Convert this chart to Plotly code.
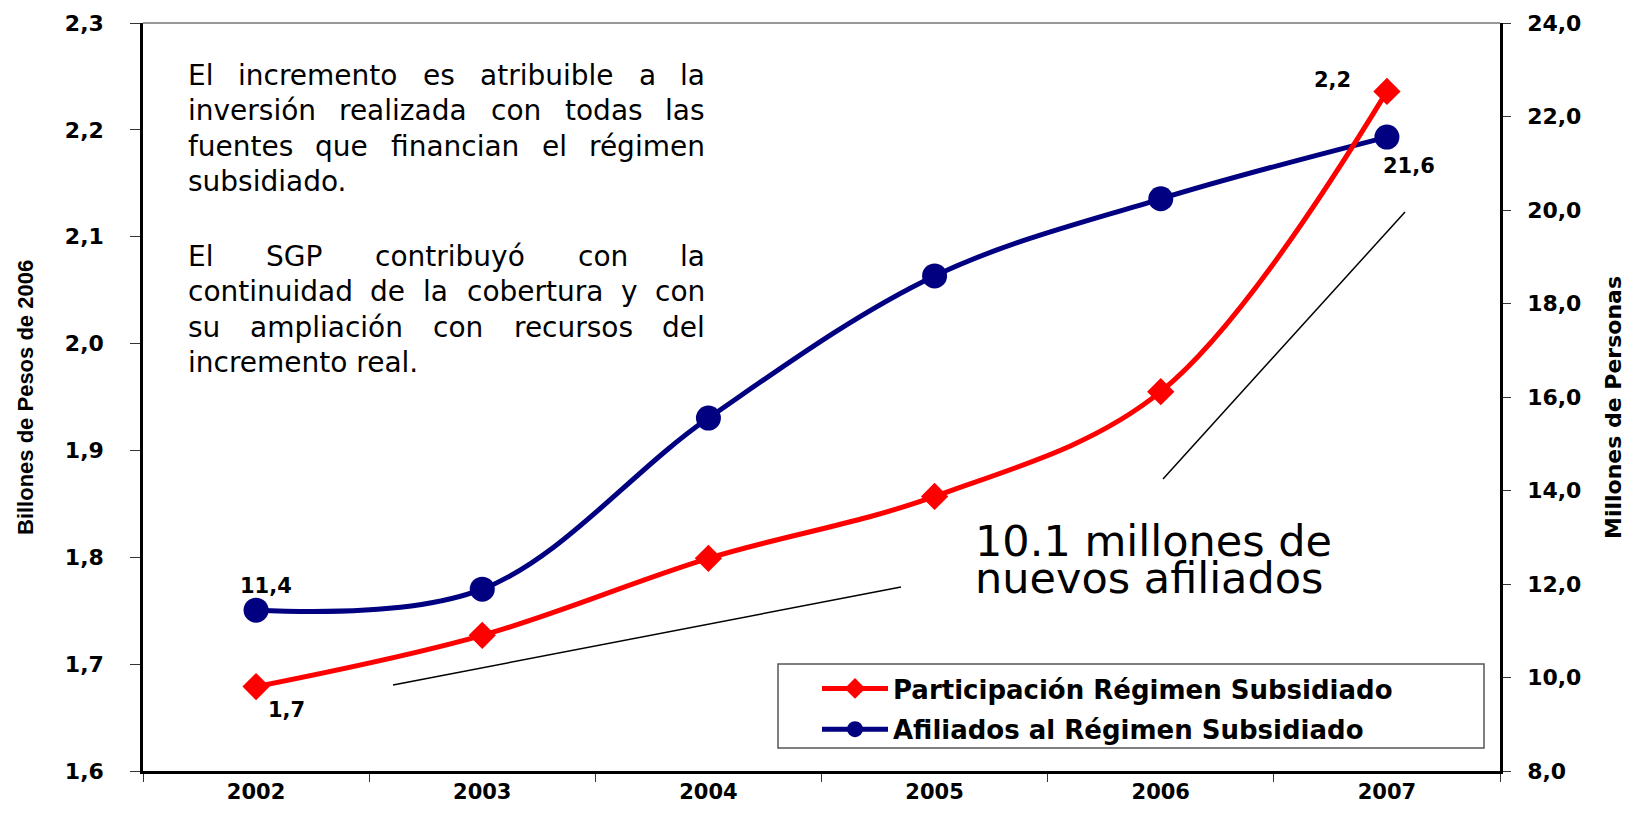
import plotly.graph_objects as go

# ---------------- data ----------------
years = ["2002", "2003", "2004", "2005", "2006", "2007"]
participacion = [1.679, 1.727, 1.799, 1.857, 1.955, 2.236]   # Billones de pesos de 2006
afiliados = [11.44, 11.89, 15.55, 18.59, 20.24, 21.56]       # Millones de personas
name_part = "Participación Régimen Subsidiado"
name_afil = "Afiliados al Régimen Subsidiado"
left_ticks = [1.6, 1.7, 1.8, 1.9, 2.0, 2.1, 2.2, 2.3]
right_ticks = [8, 10, 12, 14, 16, 18, 20, 22, 24]
label_idx = [0, 5]
title_left = "Billones de Pesos de 2006"
title_right = "Millones de Personas"
note_lines = [
    ("El incremento es atribuible a la", True),
    ("inversión realizada con todas las", True),
    ("fuentes que financian el régimen", True),
    ("subsidiado.", False),
    ("El SGP contribuyó con la", True),
    ("continuidad de la cobertura y con", True),
    ("su ampliación con recursos del", True),
    ("incremento real.", False),
]
big_note = ["10.1 millones de", "nuevos afiliados"]

# ---------------- layout helpers ----------------
# page body has an 8px margin: figure is sized so the page is exactly 1634x814
BODY = 8
W, H = 1634 - 2 * BODY, 814 - 2 * BODY
X0, X1, Y0, Y1 = 143, 1500, 23, 771   # plot area in page pixels


def px(x):
    return (x - X0) / (X1 - X0)


def py(y):
    return (Y1 - y) / (Y1 - Y0)


def fmt(v):
    return f"{v:.1f}".replace(".", ",")


RED = "#FF0000"
BLUE = "#000080"
TICKFONT = dict(family="DejaVu Sans", size=22, color="black", weight="bold")
LABELFONT = dict(family="DejaVu Sans", size=21, color="black", weight="bold")

fig = go.Figure()
fig.add_trace(go.Scatter(
    x=years, y=participacion, name=name_part, yaxis="y2", legendgroup="a",
    mode="lines+markers", line=dict(color=RED, width=5, shape="spline"),
    marker=dict(symbol="diamond", size=21, color=RED),
))
fig.add_trace(go.Scatter(
    x=years, y=afiliados, name=name_afil, yaxis="y", legendgroup="b",
    mode="lines+markers", line=dict(color=BLUE, width=5, shape="spline"),
    marker=dict(symbol="circle", size=25, color=BLUE),
))

annotations = []
# data labels (x given as category index)
shifts_part = {0: (30, -23), 5: (-54, 11)}
shifts_afil = {0: (10, 24), 5: (22, -29)}
for i in label_idx:
    dx, dy = shifts_part[i]
    annotations.append(dict(x=i, y=participacion[i], xref="x", yref="y2",
                            text=fmt(participacion[i]), showarrow=False,
                            xshift=dx, yshift=dy, font=LABELFONT))
    dx, dy = shifts_afil[i]
    annotations.append(dict(x=i, y=afiliados[i], xref="x", yref="y",
                            text=fmt(afiliados[i]), showarrow=False,
                            xshift=dx, yshift=dy, font=LABELFONT))

# justified paragraph text (DejaVu Sans metrics, em fractions)
CW = {'a': .613, 'b': .635, 'c': .550, 'd': .635, 'e': .615, 'f': .352, 'g': .635,
      'h': .634, 'i': .278, 'j': .278, 'k': .579, 'l': .278, 'm': .974, 'n': .634,
      'o': .612, 'p': .635, 'q': .635, 'r': .411, 's': .521, 't': .392, 'u': .634,
      'v': .592, 'w': .818, 'x': .592, 'y': .592, 'z': .525, ' ': .318, '.': .318,
      'E': .632, 'S': .635, 'G': .775, 'P': .603, 'ó': .612, 'é': .615}
FS = 28


def tw(s):
    return sum(CW.get(c, .6) for c in s) * FS


XL, XR = 187, 706
baselines = [85, 120.5, 156, 191.5, 266, 301.5, 337, 372.5]
nfont = dict(family="DejaVu Sans", size=FS, color="black")
for (line, just), base in zip(note_lines, baselines):
    yc = py(base - 0.346 * FS)
    if not just:
        annotations.append(dict(x=px(XL), y=yc, xref="paper", yref="paper", text=line,
                                showarrow=False, xanchor="left", yanchor="middle", font=nfont,
                                borderpad=0))
        continue
    words = line.split(" ")
    widths = [tw(w) for w in words]
    gap = (XR - XL - sum(widths)) / (len(words) - 1)
    x = XL
    for k, (w, ww) in enumerate(zip(words, widths)):
        if k == 0:
            xa, anchor = x, "left"
        elif k == len(words) - 1:
            xa, anchor = XR, "right"
        else:
            xa, anchor = x + ww / 2, "center"
        annotations.append(dict(x=px(xa), y=yc, xref="paper", yref="paper", text=w,
                                showarrow=False, xanchor=anchor, yanchor="middle", font=nfont,
                                borderpad=0))
        x += ww + gap

# big note: one text block, tight line spacing (spacing follows the base font size)
BS = 43
annotations.append(dict(
    x=px(974), y=py(559), xref="paper", yref="paper",
    text="<br>".join(f'<span style="font-size:{BS}px">{t}</span>' for t in big_note),
    showarrow=False, xanchor="left", yanchor="middle", align="left", borderpad=0,
    font=dict(family="DejaVu Sans", size=28.5, color="black")))

# axis titles
annotations.append(dict(x=px(25), y=py(398), xref="paper", yref="paper", text=title_left,
                        showarrow=False, textangle=-90, xanchor="center", yanchor="middle",
                        font=dict(family="Liberation Sans", size=22, color="black", weight="bold")))
annotations.append(dict(x=px(1614), y=py(408), xref="paper", yref="paper", text=title_right,
                        showarrow=False, textangle=-90, xanchor="center", yanchor="middle",
                        font=dict(family="DejaVu Sans", size=22, color="black", weight="bold")))

shapes = [
    # frame top line
    dict(type="line", xref="paper", yref="paper", x0=0, x1=1, y0=1, y1=1,
         line=dict(color="#333333", width=1)),
    # trend guide lines
    dict(type="line", xref="paper", yref="paper", x0=px(393), y0=py(685), x1=px(901), y1=py(587),
         line=dict(color="black", width=1.5)),
    dict(type="line", xref="paper", yref="paper", x0=px(1163), y0=py(479), x1=px(1405), y1=py(212),
         line=dict(color="black", width=1.5)),
    # legend box
    dict(type="rect", xref="paper", yref="paper", x0=px(778), y0=py(664), x1=px(1484), y1=py(748),
         line=dict(color="#555555", width=1.5), fillcolor="white", layer="below"),
]

AX = dict(showgrid=False, zeroline=False, showline=True, linecolor="black", linewidth=2.5,
          ticks="outside", tickcolor="#333", automargin=False)

fig.update_layout(
    width=W, height=H,
    margin=dict(l=X0 - BODY, r=W - (X1 - BODY), t=Y0 - BODY, b=H - (Y1 - BODY), pad=0),
    paper_bgcolor="white", plot_bgcolor="white",
    separators=", ",
    showlegend=True,
    legend=dict(x=px(817), y=py(665), xanchor="left", yanchor="top",
                bgcolor="rgba(0,0,0,0)", borderwidth=0, itemwidth=66,
                font=dict(family="DejaVu Sans", size=26, color="black", weight="bold"),
                tracegroupgap=4),
    xaxis=dict(type="category", range=[-0.5, 5.5], tickson="boundaries", ticklen=8,
               tickfont=dict(family="DejaVu Sans", size=21, color="black", weight="bold"),
               ticklabelstandoff=0, **AX),
    yaxis2=dict(range=[1.6, 2.3], tickvals=left_ticks, tickformat=".1f", side="left",
                ticklen=10, tickfont=TICKFONT, ticklabelstandoff=22, overlaying="y", **AX),
    yaxis=dict(range=[8, 24], tickvals=right_ticks, tickformat=".1f", side="right",
               ticklen=8, tickfont=TICKFONT, ticklabelstandoff=12, **AX),
    annotations=annotations,
    shapes=shapes,
)

fig.write_html("out.html")
